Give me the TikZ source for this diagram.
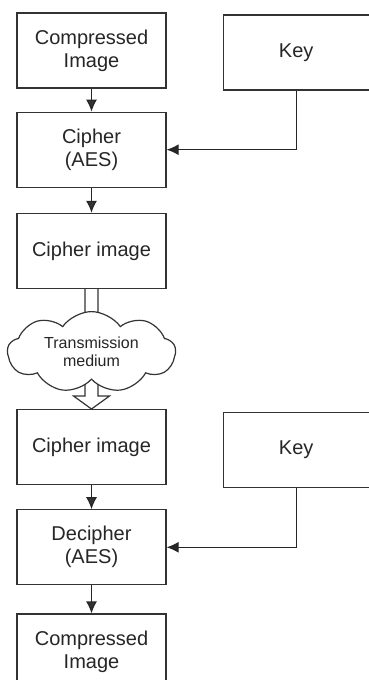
\documentclass[tikz,border=0pt]{standalone}
\usepackage{fontspec}
\setmainfont{Liberation Sans}
\usetikzlibrary{positioning,calc,arrows.meta,shapes.symbols}

\begin{document}
\begin{tikzpicture}[x=1pt, y=1pt, node distance=23pt,
		line width=1.2pt, draw=black!80, text=black!85,
		block/.style={rectangle,draw=black!80,fill=white,minimum width=149pt,minimum height=75pt,
			align=center,font=\fontsize{20}{23}\selectfont},
		key node/.style={block,minimum width=146pt},
		medium/.style={cloud,draw=black!80,fill=white,cloud puffs=9,cloud puff arc=110,
			minimum width=168pt,minimum height=77pt,inner sep=0pt,aspect=2.2,
			align=center,font=\fontsize{16}{18}\selectfont},
		link/.style={draw=black!85,-{Latex[length=12pt,width=11pt]}}]
		\useasboundingbox (0,0) rectangle (369,-680);
		
		\node[block] (comp1) at (91.5,-50.5) {Compressed\\Image};
		\node[block] (cipher) [below=23pt of comp1] {Cipher\\(AES)};
		\node[block] (cimg1) [below=25pt of cipher] {Cipher image};
		\node[block] (cimg2) [below=120pt of cimg1] {Cipher image};
		\node[block] (decipher) [below=24pt of cimg2] {Decipher\\(AES)};
		\node[block] (comp2) [below=28pt of decipher] {Compressed\\Image};
		\node[key node] (key1) [right=56pt of comp1, yshift=-2pt] {Key};
		\node[key node] (key2) [right=56pt of cimg2, yshift=-3pt] {Key};
		
		% hollow arrow through the medium
		\draw[fill=white] ($(cimg1.south)+(-6.5,0)$) -- ($(cimg2.north)+(-6.5,13)$)
			-- ($(cimg2.north)+(-18,13)$) -- (cimg2.north) -- ($(cimg2.north)+(18,13)$)
			-- ($(cimg2.north)+(6.5,13)$) -- ($(cimg1.south)+(6.5,0)$);
		\node[medium] (medium) [below=22pt of cimg1] {Transmission\\medium};
		
		\path[link]
		(comp1) edge (cipher)
		(cipher) edge (cimg1)
		(cimg2) edge (decipher)
		(decipher) edge (comp2);
		\draw[link] (key1.south) |- (cipher.east);
		\draw[link] (key2.south) |- (decipher.east);
		\end{tikzpicture}
\end{document}
